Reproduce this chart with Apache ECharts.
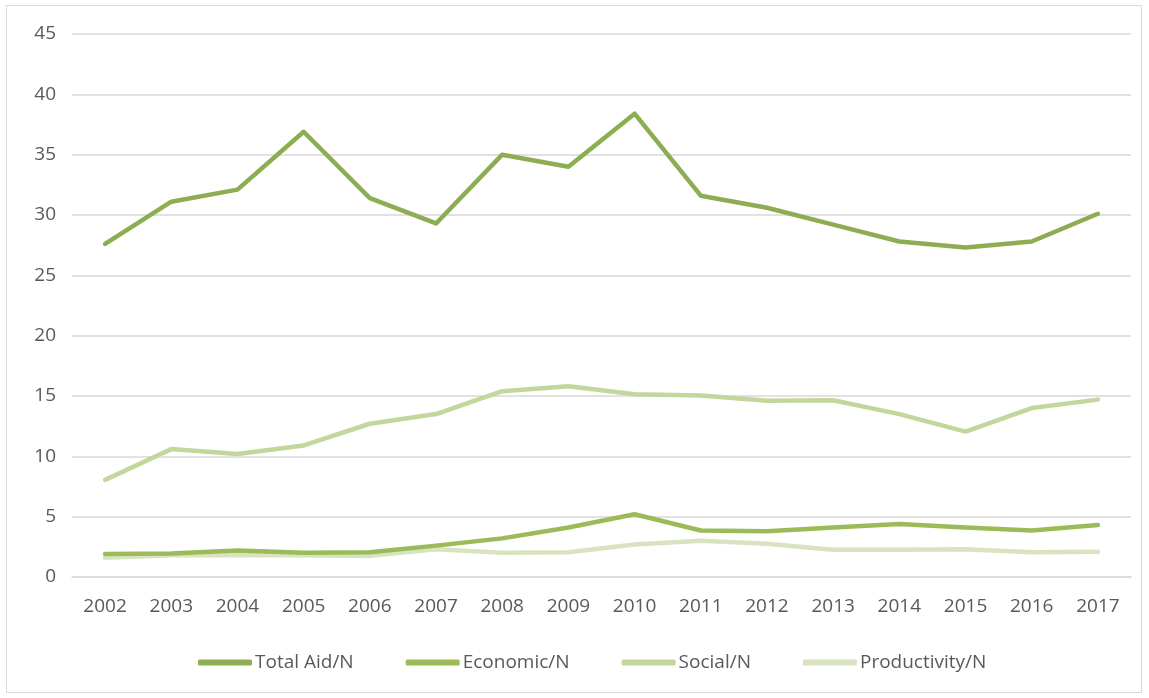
<!DOCTYPE html>
<html><head><meta charset="utf-8">
<script src="https://cdn.jsdelivr.net/npm/echarts@6/dist/echarts.min.js"></script>
<style>html,body{margin:0;padding:0;background:#fff}#c{width:1149px;height:698px}</style>
</head><body><div id="c"></div>
<script>
const years = ['2002','2003','2004','2005','2006','2007','2008','2009','2010','2011','2012','2013','2014','2015','2016','2017'];
const totalAid = [27.6,31.1,32.1,36.9,31.4,29.3,35.0,34.0,38.4,31.6,30.6,29.2,27.8,27.3,27.8,30.1];
const economic = [1.9,1.95,2.2,2.0,2.05,2.6,3.2,4.1,5.2,3.85,3.8,4.1,4.4,4.1,3.85,4.3];
const social = [8.05,10.6,10.2,10.9,12.7,13.5,15.4,15.8,15.15,15.05,14.6,14.65,13.5,12.05,14.0,14.7];
const productivity = [1.6,1.8,1.8,1.8,1.75,2.3,2.0,2.05,2.7,3.0,2.75,2.25,2.25,2.3,2.05,2.1];
const names = ['Total Aid/N','Economic/N','Social/N','Productivity/N'];
const colors = ['#8cad52','#9bbb59','#c3d69b','#d8e4bf'];
const chart = echarts.init(document.getElementById('c'));
const mk = (n,d,c)=>({name:n,type:'line',data:d,symbol:'none',smooth:false,
  lineStyle:{width:4.5,color:c,cap:'round',join:'round'},itemStyle:{color:c}});
chart.setOption({
  animation:false,
  graphic:[{type:'rect',shape:{x:6.5,y:5.5,width:1135,height:687},style:{fill:'none',stroke:'#d9d9d9',lineWidth:1}}],
  grid:{left:72,right:18,top:34,bottom:121},
  legend:{bottom:21,left:193,itemWidth:54,itemHeight:6,itemGap:52,icon:'roundRect',
    textStyle:{fontFamily:'Open Sans',fontSize:19,color:'#595959',padding:[0,0,0,-2]},data:names},
  xAxis:{type:'category',data:years,boundaryGap:true,
    axisLine:{lineStyle:{color:'#d9d9d9',width:1.5}},axisTick:{show:false},
    axisLabel:{fontFamily:'Open Sans',fontSize:19,color:'#595959',margin:20}},
  yAxis:{type:'value',min:0,max:45,interval:5,
    axisLine:{show:false},axisTick:{show:false},
    splitLine:{lineStyle:{color:'#d9d9d9',width:1.5}},
    axisLabel:{fontFamily:'Open Sans',fontSize:19,color:'#595959',margin:16,align:'right'}},
  series:[mk(names[3],productivity,colors[3]),mk(names[2],social,colors[2]),mk(names[1],economic,colors[1]),mk(names[0],totalAid,colors[0])]
});
</script></body></html>
